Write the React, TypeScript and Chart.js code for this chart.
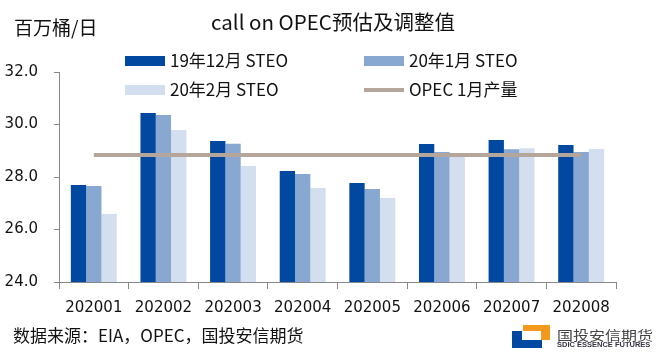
import React, { useEffect, useRef } from 'react';
import { Chart, registerables } from 'chart.js';

Chart.register(...registerables);

const categories = ['202001', '202002', '202003', '202004', '202005', '202006', '202007', '202008'];
const steoDec19 = [27.7, 30.44, 29.37, 28.23, 27.77, 29.26, 29.41, 29.22];
const steoJan20 = [27.66, 30.36, 29.27, 28.11, 27.54, 28.95, 29.06, 28.95];
const steoFeb20 = [26.59, 29.79, 28.42, 27.58, 27.2, 28.85, 29.1, 29.07];
const opecJanOutput = [28.84, 28.84, 28.84, 28.84, 28.84, 28.84, 28.84, 28.84];
const yTickValues = [24, 26, 28, 30, 32];

const seriesNames = ['19年12月 STEO', '20年1月 STEO', '20年2月 STEO', 'OPEC 1月产量'];
const titleText = 'call on OPEC预估及调整值';
const unitText = '百万桶/日';
const sourceText = '数据来源：EIA，OPEC，国投安信期货';

const C_DARK = '#0048A0';
const C_MED = '#88A8D2';
const C_LIGHT = '#D3DFEE';
const C_OPEC = '#B4A69B';

const CJK = '"Noto Sans CJK SC", "DejaVu Sans", sans-serif';

const overlayPlugin = {
  id: 'overlay',
  afterDraw(chart: any) {
    const ctx = chart.ctx as CanvasRenderingContext2D;
    ctx.save();
    ctx.fillStyle = '#111';
    ctx.textBaseline = 'middle';

    ctx.textAlign = 'left';
    ctx.font = '19px ' + CJK;
    ctx.fillText(unitText, 14, 28);

    ctx.textAlign = 'center';
    ctx.font = '20.5px ' + CJK;
    ctx.fillText(titleText, 333, 22);

    // legend
    ctx.textAlign = 'left';
    ctx.font = '17px ' + CJK;
    const items = [
      { x: 125, y: 61, color: C_DARK, line: false, label: seriesNames[0] },
      { x: 364, y: 61, color: C_MED, line: false, label: seriesNames[1] },
      { x: 125, y: 90, color: C_LIGHT, line: false, label: seriesNames[2] },
      { x: 364, y: 90, color: C_OPEC, line: true, label: seriesNames[3] },
    ];
    for (const it of items) {
      ctx.fillStyle = it.color;
      if (it.line) {
        ctx.fillRect(it.x, it.y - 2, 40, 4);
      } else {
        ctx.fillRect(it.x, it.y - 5, 40, 10);
      }
      ctx.fillStyle = '#111';
      ctx.fillText(it.label, it.x + 45, it.y);
    }

    // source
    ctx.font = '17px ' + CJK;
    ctx.fillText(sourceText, 13, 336);

    // logo
    ctx.fillStyle = '#F39A1E';
    ctx.fillRect(523, 325, 27, 6);
    ctx.fillRect(541, 325, 9, 15);
    ctx.fillStyle = C_DARK;
    ctx.fillRect(512, 331, 10, 17);
    ctx.fillRect(512, 340, 30, 8);
    ctx.fillStyle = '#444';
    ctx.save();
    ctx.translate(557, 335);
    ctx.scale(1.23, 1);
    ctx.font = '13px ' + CJK;
    ctx.fillText('国投安信期货', 0, 0);
    ctx.restore();
    ctx.fillStyle = '#334';
    ctx.font = 'bold 7.5px "Liberation Sans", sans-serif';
    ctx.fillText('SDIC ESSENCE FUTURES', 557, 345, 96);
    ctx.restore();
  },
};

export default function App() {
  const ref = useRef<HTMLCanvasElement | null>(null);
  useEffect(() => {
    if (!ref.current) return;
    const chart = new Chart(ref.current, {
      type: 'bar',
      data: {
        labels: categories,
        datasets: [
          { type: 'line', label: seriesNames[3], data: opecJanOutput, borderColor: C_OPEC, backgroundColor: C_OPEC, borderWidth: 4, pointRadius: 0, order: 0 } as any,
          { label: seriesNames[0], data: steoDec19, backgroundColor: C_DARK, order: 1 },
          { label: seriesNames[1], data: steoJan20, backgroundColor: C_MED, order: 1 },
          { label: seriesNames[2], data: steoFeb20, backgroundColor: C_LIGHT, order: 1 },
        ],
      },
      options: {
        animation: false,
        responsive: false,
        events: [],
        layout: { padding: { top: 72, left: 0, right: 44, bottom: 0 } },
        plugins: { legend: { display: false }, tooltip: { enabled: false }, title: { display: false } },
        datasets: { bar: { categoryPercentage: 0.66, barPercentage: 1 } },
        scales: {
          x: {
            offset: true,
            grid: { offset: true, drawOnChartArea: false, drawTicks: true, tickLength: 7, color: '#888', lineWidth: 1 },
            border: { display: true, color: '#888', width: 1 },
            ticks: { color: '#111', font: { family: '"DejaVu Sans", sans-serif', size: 15 }, padding: 10, maxRotation: 0, autoSkip: false },
            afterFit: (s: any) => { s.height = 76; },
          },
          y: {
            min: 24,
            max: 32,
            afterBuildTicks: (s: any) => { s.ticks = yTickValues.map((v) => ({ value: v })); },
            grid: { drawOnChartArea: false, drawTicks: true, tickLength: 5, color: '#888' },
            border: { display: true, color: '#888', width: 1 },
            ticks: { color: '#111', font: { family: '"DejaVu Sans", sans-serif', size: 15 }, padding: 16, callback: (v: any) => Number(v).toFixed(1) },
            afterFit: (s: any) => { s.width = 59; },
          },
        },
      },
      plugins: [overlayPlugin],
    } as any);
    return () => chart.destroy();
  }, []);
  return (
    <div style={{ position: 'fixed', left: 0, top: 0, width: 660, height: 358, background: '#fff' }}>
      <canvas ref={ref} width={660} height={358} style={{ display: 'block', width: 660, height: 358 }} />
    </div>
  );
}
